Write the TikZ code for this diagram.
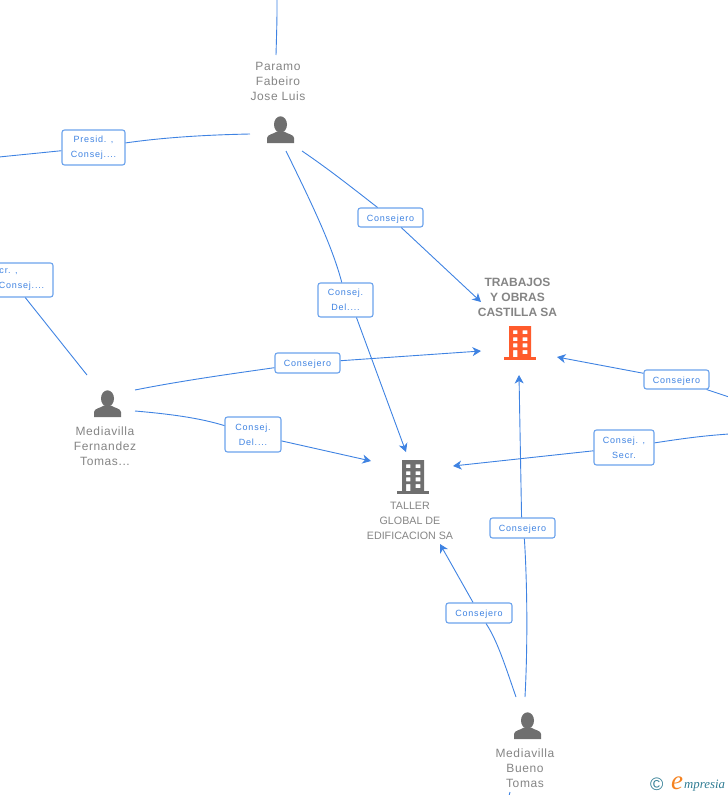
\documentclass[tikz,border=0pt]{standalone}
\usepackage{fontspec}
\usepackage{tikz}
\usetikzlibrary{arrows.meta}
\setmainfont{Liberation Sans}
\newfontfamily\rolefont[LetterSpace=9]{Liberation Sans}
\newfontfamily\namefont[LetterSpace=5]{Liberation Sans}
\newfontfamily\logofont{Liberation Serif}
\definecolor{linkblue}{HTML}{3F83E2}
\definecolor{boxblue}{HTML}{6CA3EC}
\definecolor{namegray}{HTML}{858585}
\definecolor{icongray}{HTML}{6F6F6F}
\definecolor{firmorange}{HTML}{FF5B2C}
\definecolor{logoteal}{HTML}{2F7C93}
\definecolor{logoorange}{HTML}{F58220}
\tikzset{
  link/.style={draw=linkblue, line width=0.9pt},
  linkarrow/.style={link, -{Stealth[length=8.5pt,width=9pt,inset=2.5pt]}},
  rolebox/.style={draw=boxblue, line width=1.1pt, rounded corners=2.5pt, fill=white, align=center,
    text=linkblue, font=\fontsize{9}{15}\selectfont\rolefont, inner sep=0pt,
    execute at begin node={\rule{0pt}{9pt}}},
  personname/.style={align=center, text=namegray, font=\fontsize{12}{15}\selectfont\namefont},
  firmname/.style={align=center, text=namegray, font=\fontsize{10.7}{15}\selectfont},
  mainfirm/.style={align=center, text=namegray, font=\fontsize{12}{15}\selectfont\bfseries},
  personicon/.pic={
    \fill[icongray] (0,-5.5) circle (6.5 and 8.2);
    \fill[icongray] (-13.5,13) -- (-13.5,8) .. controls (-13.5,4.5) and (-7,4) .. (-3.5,1.5)
      -- (3.5,1.5) .. controls (7,4) and (13.5,4.5) .. (13.5,8) -- (13.5,13) -- cycle;
  },
  firmicon/.pic={
    \fill[even odd rule] (-11,-17) rectangle (11,14)
      (-7,-12.7) rectangle (-2.7,-9) (2.7,-12.7) rectangle (7.3,-9)
      (-7,-5.7) rectangle (-2.7,-2) (2.7,-5.7) rectangle (7.3,-2)
      (-7,0.3) rectangle (-2.7,4.3) (2.7,0.3) rectangle (7.3,4.3)
      (-7,7) rectangle (-2.7,14) (2.7,7) rectangle (7.3,11);
    \fill (-16,14) rectangle (16,17);
  }
}
\begin{document}
\begin{tikzpicture}[x=1pt,y=-1pt]
        \useasboundingbox (0,0) rectangle (728,795);
        \clip (0,0) rectangle (728,795);

        % Draw people and firms
        \pic[icongray] at (280.5,130) {personicon};
        \pic[icongray] at (107.5,404) {personicon};
        \pic[icongray] at (527.5,726) {personicon};
        \pic[fill=firmorange] at (520,343) {firmicon};
        \pic[fill=icongray] at (413,477) {firmicon};

        \node[personname] (paramo) at (278,81.5) {Paramo\\Fabeiro\\Jose Luis};
        \node[personname] (tomas) at (105,446.5) {Mediavilla\\Fernandez\\Tomas...};
        \node[personname, anchor=north] (bueno) at (525,745) {Mediavilla\\Bueno\\Tomas};
        \node[mainfirm] (trabajos) at (517.5,297.5) {TRABAJOS\\Y OBRAS\\CASTILLA SA};
        \node[firmname] (taller) at (410,520.5) {TALLER\\GLOBAL DE\\EDIFICACION SA};

        % Draw role boxes
        \node[rolebox, minimum width=63pt, minimum height=35pt] (presid) at (93.5,147.5) {Presid. ,\\Consej....};
        \node[rolebox, minimum width=65pt, minimum height=19pt] (consA) at (390.5,217.5) {Consejero};
        \node[rolebox, minimum width=55pt, minimum height=34pt] (delA) at (345.5,300) {Consej.\\Del....};
        \node[rolebox, minimum width=63pt, minimum height=34pt] (secrA) at (21.5,280) {cr. ,\kern26pt\\Consej....};
        \node[rolebox, minimum width=65pt, minimum height=20pt] (consB) at (307.5,363) {Consejero};
        \node[rolebox, minimum width=56pt, minimum height=35pt] (delB) at (253,434.5) {Consej.\\Del....};
        \node[rolebox, minimum width=65pt, minimum height=19pt] (consC) at (676.5,379.5) {Consejero};
        \node[rolebox, minimum width=60pt, minimum height=35pt] (secrB) at (624,447.5) {Consej. ,\\Secr.};
        \node[rolebox, minimum width=65pt, minimum height=20pt] (consD) at (522.5,528) {Consejero};
        \node[rolebox, minimum width=66pt, minimum height=20pt] (consE) at (479,613) {Consejero};

        % Free ends of the links
        \coordinate (topend) at (277,-1);
        \coordinate (paramoW) at (250,134);
        \coordinate (paramoT) at (276,55);
        \coordinate (paramoE) at (302,151);
        \coordinate (paramoS) at (286,151);
        \coordinate (leftend) at (-1,157);
        \coordinate (tomasN) at (87,375);
        \coordinate (tomasE) at (135,390);
        \coordinate (tomasS) at (135,411);
        \coordinate (rightA) at (729,397);
        \coordinate (rightB) at (729,434);
        \coordinate (buenoA) at (516,697);
        \coordinate (buenoB) at (525,697);
        \coordinate (bottomend) at (509,796);
        \coordinate (bottomtop) at (510,792);
        \coordinate (toTrabajosA) at (481,302);
        \coordinate (toTrabajosB) at (481,351);
        \coordinate (toTrabajosC) at (557,357);
        \coordinate (toTrabajosD) at (519,375);
        \coordinate (toTallerA) at (406,452);
        \coordinate (toTallerB) at (371,461);
        \coordinate (toTallerC) at (453,466);
        \coordinate (toTallerD) at (440,544);

        % Draw links
        \draw[link] (topend) .. controls (277,20) .. (paramoT);
        \draw[link] (paramoW) .. controls (200,135) and (160,138) .. (presid);
        \draw[link] (presid) -- (leftend);
        \draw[link] (paramoE) .. controls (330,170) and (355,190) .. (consA);
        \draw[linkarrow] (consA) -- (toTrabajosA);
        \draw[link] (paramoS) .. controls (310,200) and (332,245) .. (delA.102);
        \draw[linkarrow] (delA.-58) -- (toTallerA);
        \draw[link] (tomasN) -- (secrA.-78);
        \draw[link] (tomasE) .. controls (180,381) and (230,374) .. (consB);
        \draw[linkarrow] (consB) -- (toTrabajosB);
        \draw[link] (tomasS) .. controls (170,414) and (200,418) .. (delB);
        \draw[linkarrow] (delB) -- (toTallerB);
        \draw[link] (rightA) -- (consC);
        \draw[linkarrow] (consC) -- (toTrabajosC);
        \draw[link] (rightB) .. controls (700,436) and (680,439) .. (secrB);
        \draw[linkarrow] (secrB) -- (toTallerC);
        \draw[link] (buenoB) .. controls (528,640) and (527,580) .. (consD.-80);
        \draw[linkarrow] (consD.95) -- (toTrabajosD);
        \draw[link] (buenoA) .. controls (505,665) and (497,640) .. (consE);
        \draw[linkarrow] (consE) -- (toTallerD);
        \draw[link] (bottomtop) -- (bottomend);

        % Logo
        \node[anchor=base west, inner sep=0pt, text=logoteal, font=\fontsize{18}{18}\selectfont] (logoC) at (650,790) {©};
        \node[anchor=base west, inner sep=0pt, text=logoorange, font=\fontsize{27}{27}\selectfont\logofont\itshape] (logoE) at (671,789) {e};
        \node[anchor=base west, inner sep=0pt, text=logoteal, font=\fontsize{12.8}{12.8}\selectfont\logofont\itshape] (logoT) at (684,788) {mpresia};
\end{tikzpicture}
\end{document}
